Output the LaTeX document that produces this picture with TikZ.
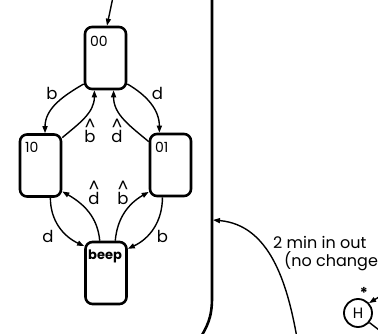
\documentclass[tikz,border=0pt]{standalone}
\usepackage{fontspec}
\setmainfont{Poppins}
\usetikzlibrary{arrows.meta}
\newcommand\hatlet[1]{\ooalign{#1\cr\hidewidth\raisebox{0.74em}{\textasciicircum}\hidewidth\cr}}
\begin{document}
\begin{tikzpicture}[x=1pt,y=1pt,
  state/.style={draw, line width=2.6pt, rounded corners=7pt, minimum width=41pt, minimum height=62pt, inner sep=0pt},
  conn/.style={line width=1.4pt, -{Triangle[length=7pt,width=5pt]}},
  lbl/.style={font=\fontsize{16.5}{16.5}\selectfont, inner sep=0pt, anchor=base},
  sl/.style={font=\fontsize{14}{14}\selectfont, inner sep=0pt, anchor=base west},
  note/.style={font=\fontsize{16}{16}\selectfont, inner sep=0pt, anchor=base west}]
\useasboundingbox (0,0) rectangle (378,-334);
\clip (0,0) rectangle (378,-334);
% states
\node[state] (n00) at (105.5,-58) {};
\node[state] (n10) at (40.5,-165.5) {};
\node[state] (n01) at (170.5,-165) {};
\node[state] (nbeep) at (106,-273) {};
\node[sl] (t00) at (90,-47) {00};
\node[sl] (t10) at (25,-153) {10};
\node[sl] (t01) at (155,-153) {01};
\node[sl, font=\fontsize{13}{13}\selectfont\bfseries] (tbeep) at (88,-260) {beep};
% incoming
\coordinate (in00) at (113,3);
\draw[conn] (in00) -- ([xshift=1.5pt]n00.north);
% upper transitions
\draw[conn] (n00.230) to[out=210,in=90] (n10.82);
\draw[conn] (n10.52) to[out=40,in=270] (n00.251);
\draw[conn] (n01.133) to[out=140,in=270] (n00.284);
\draw[conn] (n00.310) to[out=-30,in=90] (n01.109);
\node[lbl] (lb1) at (52,-100) {b};
\node[lbl] (ld1) at (157.5,-100) {d};
\node[lbl] (lbh1) at (90,-143) {\hatlet{b}};
\node[lbl] (ldh1) at (117,-143) {\hatlet{d}};
% lower transitions
\draw[conn] (n10.287) to[out=-90,in=155] (nbeep.129);
\draw[conn] (nbeep.101) to[out=95,in=-30] (n10.310);
\draw[conn] (nbeep.74) to[out=85,in=210] (n01.231);
\draw[conn] (n01.256) to[out=-90,in=25] (nbeep.48);
\node[lbl] (ld2) at (48,-243) {d};
\node[lbl] (lb2) at (162.5,-243) {b};
\node[lbl] (ldh2) at (94,-205) {\hatlet{d}};
\node[lbl] (lbh2) at (123,-205) {\hatlet{b}};
% superstate frame
\draw[line width=2.6pt] (212,5) -- (212,-298) .. controls (212,-318) and (207,-327) .. (199,-340);
\coordinate (fr) at (213,-220);
\coordinate (src) at (297,-338);
\draw[conn] (src) to[out=100,in=-5] (fr);
\node[note] (m1) at (273,-249) {2 min in out};
\node[note] (m2) at (284,-267) {(no change};
% history
\node[circle, draw, line width=1.8pt, minimum size=28pt, inner sep=0pt, font=\fontsize{15}{15}\selectfont] (hist) at (358,-313) {H};
\node[inner sep=0pt, font=\fontsize{15}{15}\selectfont\bfseries] (star) at (364,-293) {*};
\coordinate (hin) at (392,-289);
\coordinate (hout) at (392,-340);
\draw[conn] (hin) -- (hist.42);
\draw[line width=1.4pt] (hist.-40) -- (hout);
\end{tikzpicture}
\end{document}
